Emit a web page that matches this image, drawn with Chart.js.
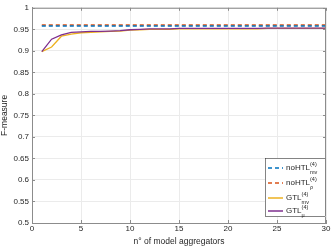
<!DOCTYPE html>
<html>
<head>
<meta charset="utf-8">
<script src="https://cdn.jsdelivr.net/npm/chart.js@4"></script>
<style>
  html, body { margin: 0; padding: 0; background: #fff; }
  #wrap { width: 332px; height: 249px; }
</style>
</head>
<body>
<div id="wrap"><canvas id="c" width="332" height="249"></canvas></div>
<script>
// number of model aggregators
const aggregators = [1, 2, 3, 4, 5, 6, 7, 8, 9, 10, 11, 12, 13, 14, 15, 16, 17, 18, 19, 20, 21, 22, 23, 24, 25, 26, 27, 28, 29, 30];

// baselines (constant)
const noHTLmv = 0.958;
const noHTLrho = 0.960;

// GTL curves
const gtlMv = [0.898, 0.909, 0.934, 0.939, 0.942, 0.943, 0.944, 0.945, 0.946, 0.948,
    0.949, 0.950, 0.950, 0.950, 0.951, 0.951, 0.951, 0.951, 0.951, 0.951,
    0.951, 0.951, 0.951, 0.952, 0.952, 0.952, 0.952, 0.952, 0.952, 0.952];
const gtlMu = [0.898, 0.927, 0.937, 0.943, 0.944, 0.945, 0.945, 0.946, 0.947, 0.949,
    0.950, 0.951, 0.951, 0.951, 0.952, 0.952, 0.952, 0.952, 0.952, 0.952,
    0.952, 0.952, 0.952, 0.953, 0.953, 0.953, 0.953, 0.953, 0.953, 0.953];

const yTicks = [0.5, 0.55, 0.6, 0.65, 0.7, 0.75, 0.8, 0.85, 0.9, 0.95, 1];
const xTicks = [0, 5, 10, 15, 20, 25, 30];

// legend entries: main text, superscript, subscript
const legendItems = [
    { base: 'noHTL', sup: '(4)', sub: 'mv', color: '#0072BD', dash: [4, 3] },
    { base: 'noHTL', sup: '(4)', sub: 'ρ', color: '#D95319', dash: [4, 3] },
    { base: 'GTL', sup: '(4)', sub: 'mv', color: '#EDB120', dash: [] },
    { base: 'GTL', sup: '(4)', sub: 'μ', color: '#7E2F8E', dash: [] }
];

const FONT = 'Liberation Sans, Arial, sans-serif';

function pts(xs, ys) {
    return xs.map((x, i) => ({ x: x, y: Array.isArray(ys) ? ys[i] : ys }));
}

// plot box, inner ticks and custom legend with super/subscripts
const extras = {
    id: 'extras',
    afterDraw(chart) {
        const ctx = chart.ctx;
        const a = chart.chartArea;
        const ys = chart.scales.y;
        const xs = chart.scales.x;
        ctx.save();
        ctx.strokeStyle = '#8c8c8c';
        ctx.lineWidth = 1;
        ctx.beginPath();
        ctx.moveTo(a.left, a.top + 0.5);
        ctx.lineTo(a.right - 0.5, a.top + 0.5);
        ctx.lineTo(a.right - 0.5, a.bottom);
        ctx.stroke();
        // inner tick marks
        yTicks.forEach(v => {
            const py = Math.round(ys.getPixelForValue(v)) + 0.5;
            ctx.beginPath();
            ctx.moveTo(a.right - 3, py);
            ctx.lineTo(a.right, py);
            ctx.moveTo(a.left, py);
            ctx.lineTo(a.left + 3, py);
            ctx.stroke();
        });
        xTicks.forEach(v => {
            const px = Math.round(xs.getPixelForValue(v)) + 0.5;
            ctx.beginPath();
            ctx.moveTo(px, a.bottom);
            ctx.lineTo(px, a.bottom - 3);
            ctx.moveTo(px, a.top);
            ctx.lineTo(px, a.top + 3);
            ctx.stroke();
        });

        // legend box
        const bx = 265, by = 158, bw = 61, bh = 59;
        ctx.fillStyle = '#fff';
        ctx.fillRect(bx, by, bw, bh);
        ctx.strokeStyle = '#333';
        ctx.lineWidth = 0.6;
        ctx.strokeRect(bx + 0.5, by + 0.5, bw - 1, bh - 1);

        const rows = [168, 183, 198, 211];
        legendItems.forEach((it, i) => {
            const y = rows[i];
            ctx.strokeStyle = it.color;
            ctx.lineWidth = 1.5;
            ctx.setLineDash(it.dash);
            ctx.beginPath();
            ctx.moveTo(268, y);
            ctx.lineTo(283, y);
            ctx.stroke();
            ctx.setLineDash([]);

            ctx.fillStyle = '#262626';
            ctx.textBaseline = 'middle';
            ctx.textAlign = 'left';
            ctx.font = '8px ' + FONT;
            ctx.fillText(it.base, 286, y);
            const w = ctx.measureText(it.base).width;
            ctx.font = '5.5px ' + FONT;
            ctx.fillText(it.sup, 286 + w, y - 4);
            ctx.fillText(it.sub, 286 + w, y + 4);
        });
        ctx.restore();
    }
};

new Chart(document.getElementById('c'), {
    type: 'line',
    data: {
        datasets: [{
            label: 'noHTL mv',
            data: pts(aggregators, noHTLmv),
            borderColor: '#0072BD',
            borderWidth: 1.5,
            borderDash: [4, 3],
            pointRadius: 0
        }, {
            label: 'noHTL rho',
            data: pts(aggregators, noHTLrho),
            borderColor: '#D95319',
            borderWidth: 1.5,
            borderDash: [4, 3],
            pointRadius: 0
        }, {
            label: 'GTL mv',
            data: pts(aggregators, gtlMv),
            borderColor: '#EDB120',
            borderWidth: 1.3,
            pointRadius: 0,
            order: 2
        }, {
            label: 'GTL mu',
            data: pts(aggregators, gtlMu),
            borderColor: '#7E2F8E',
            borderWidth: 1.3,
            pointRadius: 0,
            order: 1
        }]
    },
    options: {
        responsive: false,
        animation: false,
        layout: { padding: { top: 4, right: 6, left: 0, bottom: 0 } },
        plugins: {
            legend: { display: false },
            tooltip: { enabled: false }
        },
        scales: {
            x: {
                type: 'linear',
                min: 0,
                max: 30,
                afterBuildTicks: s => { s.ticks = xTicks.map(v => ({ value: v })); },
                ticks: { color: '#262626', font: { family: FONT, size: 8 }, padding: 1, maxRotation: 0 },
                grid: { color: '#ebebeb', tickLength: 0, drawTicks: false },
                border: { color: '#8c8c8c' },
                title: {
                    display: true,
                    text: 'n° of model aggregators',
                    color: '#262626',
                    font: { family: FONT, size: 8.5 },
                    padding: { top: 1, bottom: 2 }
                },
                afterFit: s => { s.height = 26; }
            },
            y: {
                min: 0.5,
                max: 1,
                afterBuildTicks: s => { s.ticks = yTicks.map(v => ({ value: v })); },
                ticks: {
                    color: '#262626',
                    font: { family: FONT, size: 8 },
                    padding: 3,
                    callback: v => String(Number(v.toFixed(2)))
                },
                grid: { color: '#ebebeb', drawTicks: false },
                border: { color: '#8c8c8c' },
                title: {
                    display: true,
                    text: 'F-measure',
                    color: '#262626',
                    font: { family: FONT, size: 8.5 },
                    padding: { top: 0, bottom: 2 }
                },
                afterFit: s => { s.width = 32; }
            }
        }
    },
    plugins: [extras]
});
</script>
</body>
</html>
